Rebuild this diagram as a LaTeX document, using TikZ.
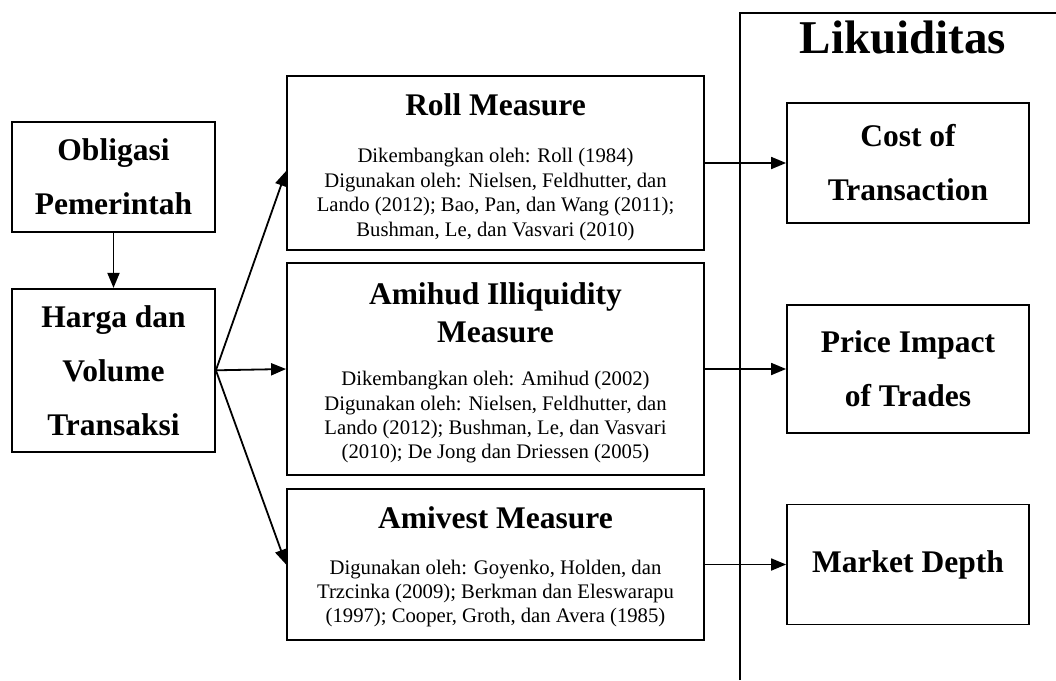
\documentclass[tikz,border=0pt]{standalone}
\usepackage{fontspec}
\setmainfont{Liberation Serif}
\usetikzlibrary{arrows.meta,positioning}
\newcommand{\titlefnt}{\fontsize{31.5}{38}\selectfont\bfseries}
\newcommand{\notefnt}{\fontsize{20.7}{24.4}\selectfont}
\tikzset{
  box/.style={draw,line width=1.8pt,align=flush center,inner sep=0pt},
  bold/.style={font=\fontsize{31.5}{54}\selectfont\bfseries},
  ar/.style={-{Triangle[length=15pt,width=12pt]},line width=1.8pt},
  frm/.style={line width=1.6pt}
}
\begin{document}
\begin{tikzpicture}[x=1pt,y=-1pt]
\useasboundingbox (0,0) rectangle (1056,680);
% frame of the liquidity side
\draw[frm] (740,680) -- (740,13) -- (1056,13);
\node[font=\fontsize{47}{56}\selectfont\bfseries,anchor=base] (likuid) at (903,53) {Likuiditas};
% left column
\node[box,bold,minimum width=203pt,minimum height=110pt,text width=195pt] (obligasi) at (113.5,177) {Obligasi\\Pemerintah};
\node[box,bold,minimum width=203pt,minimum height=163pt,text width=195pt,below=55pt of obligasi] (harga) {Harga dan\\Volume\\Transaksi};
% measures
\node[box,minimum width=417pt,minimum height=174pt,text width=405pt] (roll) at (495.5,163)
  {\rule{0pt}{30.5pt}{\titlefnt Roll Measure\par}\vspace{22.6pt}
   {\notefnt Dikembangkan oleh: Roll (1984)\\Digunakan oleh: Nielsen, Feldhutter, dan\\Lando (2012); Bao, Pan, dan Wang (2011);\\Bushman, Le, dan Vasvari (2010)\par}};
\node[box,minimum width=417pt,minimum height=212pt,text width=405pt] (amihud) at (495.5,369)
  {\rule{0pt}{30pt}{\titlefnt Amihud Illiquidity\\Measure\par}\vspace{18.6pt}
   {\notefnt Dikembangkan oleh: Amihud (2002)\\Digunakan oleh: Nielsen, Feldhutter, dan\\Lando (2012); Bushman, Le, dan Vasvari\\(2010); De Jong dan Driessen (2005)\par}};
\node[box,minimum width=417pt,minimum height=151pt,text width=405pt] (amivest) at (495.5,564.5)
  {\rule{0pt}{26.5pt}{\titlefnt Amivest Measure\par}\vspace{21.6pt}
   {\notefnt Digunakan oleh: Goyenko, Holden, dan\\Trzcinka (2009); Berkman dan Eleswarapu\\(1997); Cooper, Groth, dan Avera (1985)\par}};
% liquidity dimensions
\node[box,bold,minimum width=242pt,minimum height=120pt,text width=230pt] (cost) at (908,163) {Cost of\\Transaction};
\node[box,bold,minimum width=242pt,minimum height=128pt,text width=230pt] (price) at (908,369) {Price Impact\\of Trades};
\node[box,bold,minimum width=242pt,minimum height=120pt,text width=230pt] (depth) at (908,564.5) {Market Depth};
% arrows
\draw[ar] (obligasi) -- (harga);
\draw[ar] (harga.east) -- ([yshift=-8pt]roll.west);
\draw[ar] (harga.east) -- (amihud.west);
\draw[ar] (harga.east) -- (amivest.west);
\draw[ar] (roll.east) -- (cost.west);
\draw[ar] (amihud.east) -- (price.west);
\draw[ar] (amivest.east) -- (depth.west);
\end{tikzpicture}
\end{document}
